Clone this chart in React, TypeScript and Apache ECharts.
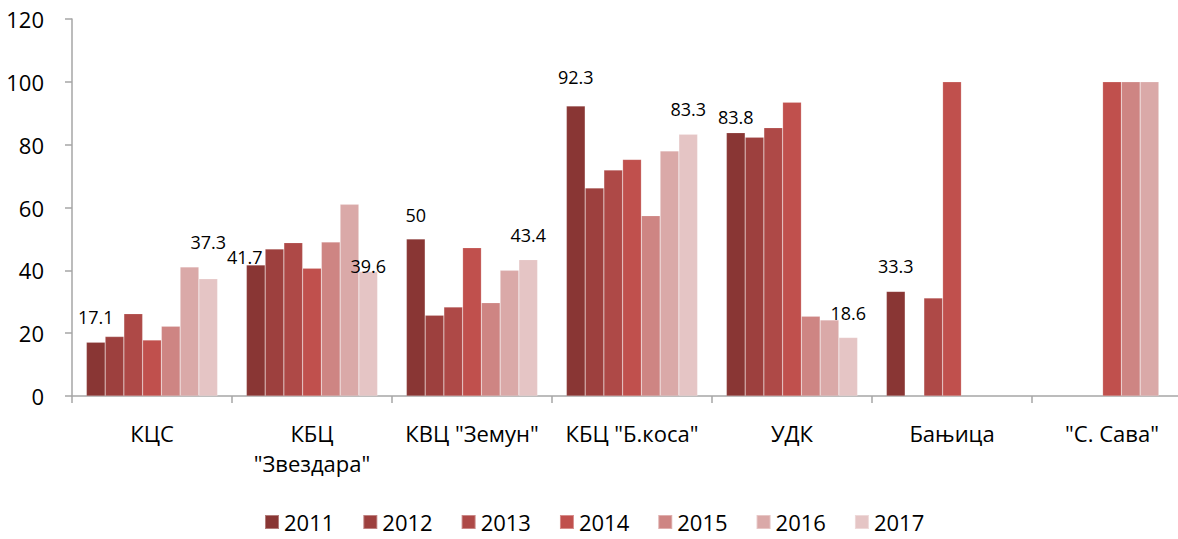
import React, { useEffect, useRef } from "react";
import * as echarts from "echarts";

const categories = ["КЦС", "КБЦ\n\"Звездара\"", "КВЦ \"Земун\"", "КБЦ \"Б.коса\"", "УДК", "Бањица", "\"С. Сава\""];
const years = ["2011", "2012", "2013", "2014", "2015", "2016", "2017"];

const v2011 = [17.1, 41.7, 50, 92.3, 83.8, 33.3, null];
const v2012 = [18.9, 46.8, 25.7, 66.2, 82.4, null, null];
const v2013 = [26.2, 48.8, 28.3, 71.9, 85.4, 31.2, null];
const v2014 = [17.8, 40.7, 47.2, 75.3, 93.5, 100, 100];
const v2015 = [22.2, 49.0, 29.7, 57.4, 25.4, null, 100];
const v2016 = [41.1, 61.0, 40.0, 78.0, 24.2, null, 100];
const v2017 = [37.3, 39.6, 43.4, 83.3, 18.6, null, null];

const seriesValues = [v2011, v2012, v2013, v2014, v2015, v2016, v2017];
const colors = ["#893634", "#9D403E", "#AE4947", "#C0504D", "#CE8583", "#DAA9A8", "#E5C5C5"];

// which bars carry a value label, with small style offsets [dx, dy]
const labelOffsets2011: ([number, number] | null)[] = [[0, -11], [-11, 6], [0, -10], [0, -15], [0, -2], [0, -11], null];
const labelOffsets2017: ([number, number] | null)[] = [[0, -23], [0, 8], [0, -11], [0, -11], [0, -11], null, null];

const FONT = "'Open Sans', 'Liberation Sans', sans-serif";

export default function App() {
  const ref = useRef<HTMLDivElement>(null);
  useEffect(() => {
    document.body.style.margin = "0";
    document.body.style.overflow = "hidden";
    if (!ref.current) return;
    const chart = echarts.init(ref.current, undefined, { renderer: "svg" });
    const series = seriesValues.map((vals, si) => {
      const offs = si === 0 ? labelOffsets2011 : si === 6 ? labelOffsets2017 : null;
      return {
        name: years[si],
        type: "bar",
        barGap: "0%",
        barCategoryGap: "18%",
        itemStyle: { color: colors[si], borderColor: "rgba(255,255,255,0.35)", borderWidth: 0.5 },
        data: vals.map((v, ci) => {
          const off = offs ? offs[ci] : null;
          if (v === null) return null;
          if (off) {
            return {
              value: v,
              label: {
                show: true,
                position: "top",
                distance: 5,
                offset: off,
                color: "#000",
                fontSize: 18,
                fontFamily: FONT,
              },
            };
          }
          return v;
        }),
      };
    });
    chart.setOption({
      animation: false,
      color: colors,
      textStyle: { fontFamily: FONT },
      grid: { left: 72, right: 0, top: 19, bottom: 143, containLabel: false },
      xAxis: {
        type: "category",
        data: categories,
        axisLine: { show: true, lineStyle: { color: "#A6A6A6", width: 1.5 } },
        axisTick: { show: true, alignWithLabel: false, length: 7, lineStyle: { color: "#A6A6A6", width: 1.5 } },
        axisLabel: { interval: 0, color: "#000", fontSize: 22, margin: 22, lineHeight: 30, fontFamily: FONT },
      },
      yAxis: {
        type: "value",
        min: 0,
        max: 120,
        interval: 20,
        splitLine: { show: false },
        axisLine: { show: true, lineStyle: { color: "#A6A6A6", width: 1.5 } },
        axisTick: { show: true, length: 7, lineStyle: { color: "#A6A6A6", width: 1.5 } },
        axisLabel: { color: "#000", fontSize: 22, margin: 28, fontFamily: FONT },
      },
      legend: {
        top: 511,
        left: 264,
        padding: 0,
        icon: "rect",
        itemWidth: 14,
        itemHeight: 14,
        itemGap: 28,
        textStyle: { color: "#000", fontSize: 22, lineHeight: 22, fontFamily: FONT },
        data: years,
      },
      series,
    });
    return () => chart.dispose();
  }, []);
  return <div ref={ref} style={{ width: 1192, height: 539 }} />;
}
